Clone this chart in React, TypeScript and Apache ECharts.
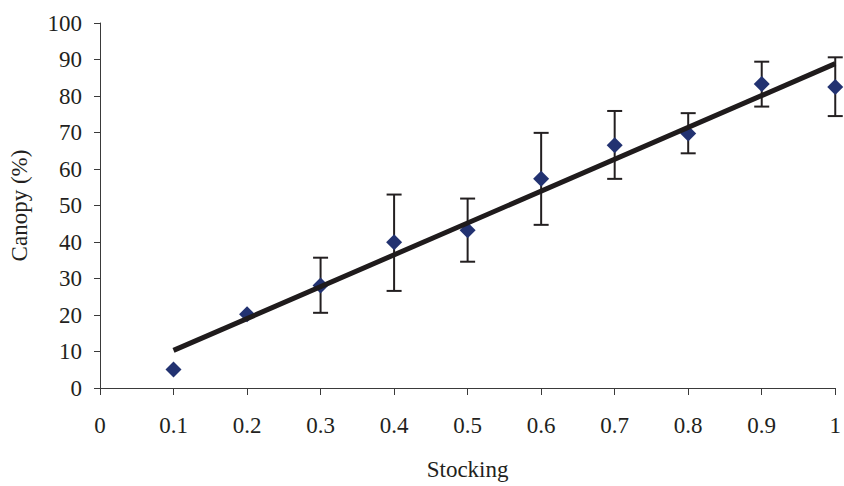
import React, { useEffect, useRef } from "react";
import * as echarts from "echarts";

const stocking = [0.1, 0.2, 0.3, 0.4, 0.5, 0.6, 0.7, 0.8, 0.9, 1.0];
const canopy = [5.1, 20.2, 28.1, 39.9, 43.2, 57.3, 66.5, 69.7, 83.3, 82.5];
const errLow = [5.1, 20.2, 20.6, 26.6, 34.6, 44.7, 57.3, 64.3, 77.1, 74.5];
const errHigh = [5.1, 20.2, 35.7, 53.0, 51.9, 69.9, 75.9, 75.3, 89.4, 90.6];
const xTicks = [0, 0.1, 0.2, 0.3, 0.4, 0.5, 0.6, 0.7, 0.8, 0.9, 1];

function regression(xs: number[], ys: number[]) {
  const n = xs.length;
  const mx = xs.reduce((a, b) => a + b, 0) / n;
  const my = ys.reduce((a, b) => a + b, 0) / n;
  let sxy = 0;
  let sxx = 0;
  for (let i = 0; i < n; i++) {
    sxy += (xs[i] - mx) * (ys[i] - my);
    sxx += (xs[i] - mx) * (xs[i] - mx);
  }
  const slope = sxy / sxx;
  return { slope, intercept: my - slope * mx };
}

export default function App() {
  const ref = useRef<HTMLDivElement>(null);
  useEffect(() => {
    if (!ref.current) return;
    const chart = echarts.init(ref.current, null, { renderer: "svg" });
    const { slope, intercept } = regression(stocking, canopy);
    const x0 = stocking[0];
    const x1 = stocking[stocking.length - 1];
    const trend = [
      [x0, intercept + slope * x0],
      [x1, intercept + slope * x1],
    ];
    const font = "'Liberation Serif', 'Times New Roman', serif";
    const fs = 23;
    const errData = stocking
      .map((x, i) => [x, errLow[i], errHigh[i]])
      .filter((d) => d[2] - d[1] > 0.5);
    chart.setOption({
      animation: false,
      backgroundColor: "#ffffff",
      grid: { left: 99, right: 5, top: 23, bottom: 90, containLabel: false },
      xAxis: {
        type: "value",
        min: 0,
        max: 1,
        interval: 0.1,
        name: "Stocking",
        nameLocation: "middle",
        nameGap: 70,
        nameTextStyle: { fontFamily: font, fontSize: fs, color: "#231f20" },
        axisLine: { show: true, lineStyle: { color: "#3a3a3a", width: 1 } },
        axisTick: { show: true, length: 7, lineStyle: { color: "#3a3a3a" } },
        axisLabel: {
          margin: 26,
          fontFamily: font,
          fontSize: fs,
          color: "#231f20",
          formatter: (v: number) => {
            const t = xTicks.find((k) => Math.abs(k - v) < 1e-6);
            return t === undefined ? "" : String(t);
          },
        },
        splitLine: { show: false },
      },
      yAxis: {
        type: "value",
        min: 0,
        max: 100,
        interval: 10,
        name: "Canopy (%)",
        nameLocation: "middle",
        nameGap: 69,
        nameRotate: 90,
        nameTextStyle: { fontFamily: font, fontSize: fs, color: "#231f20" },
        axisLine: { show: true, lineStyle: { color: "#3a3a3a", width: 1 } },
        axisTick: { show: true, length: 6, lineStyle: { color: "#3a3a3a" } },
        axisLabel: { margin: 18, fontFamily: font, fontSize: fs, color: "#231f20" },
        splitLine: { show: false },
      },
      series: [
        {
          type: "custom",
          name: "error",
          data: errData,
          z: 2,
          renderItem: (params: any, api: any) => {
            const x = api.value(0);
            const lo = api.coord([x, api.value(1)]);
            const hi = api.coord([x, api.value(2)]);
            const hw = 7.5;
            const style = { stroke: "#231f20", lineWidth: 2 };
            return {
              type: "group",
              children: [
                { type: "line", shape: { x1: lo[0], y1: lo[1], x2: hi[0], y2: hi[1] }, style },
                { type: "line", shape: { x1: lo[0] - hw, y1: lo[1], x2: lo[0] + hw, y2: lo[1] }, style },
                { type: "line", shape: { x1: hi[0] - hw, y1: hi[1], x2: hi[0] + hw, y2: hi[1] }, style },
              ],
            };
          },
        },
        {
          type: "scatter",
          name: "Canopy",
          data: stocking.map((x, i) => [x, canopy[i]]),
          symbol: "diamond",
          symbolSize: [16, 16],
          itemStyle: { color: "#223271", opacity: 1 },
          z: 3,
        },
        {
          type: "line",
          name: "Trend",
          data: trend,
          showSymbol: false,
          symbol: "none",
          lineStyle: { color: "#1f1b1c", width: 5 },
          z: 4,
        },
      ],
    });
    return () => chart.dispose();
  }, []);
  return <div ref={ref} style={{ width: 844, height: 486, position: "absolute", left: 0, top: 0 }} />;
}
